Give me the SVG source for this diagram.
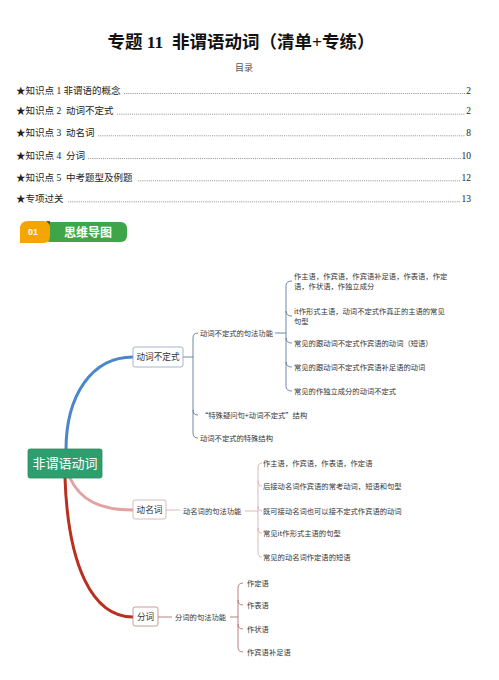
<svg xmlns="http://www.w3.org/2000/svg" width="499" height="680" viewBox="0 0 499 680">
<style>
.title{font-family:"Liberation Serif","Noto Sans CJK SC",serif;font-size:17.5px;font-weight:bold;fill:#111}
.toc{font-family:"Liberation Serif","Noto Sans CJK SC",serif;font-size:9.5px;fill:#222}
.lead{stroke:#333;stroke-width:0.7;stroke-dasharray:0.7 1.2}
.mm{font-family:"Noto Sans CJK SC",sans-serif;font-size:7.3px;fill:#333}
.node{font-family:"Noto Sans CJK SC",sans-serif;font-size:8.6px;fill:#333;text-anchor:middle}
.box{fill:#fff;stroke-width:0.8}
.thick{fill:none;stroke-width:3;stroke-linecap:round}
.thin{fill:none;stroke-width:0.8}
</style>
<rect width="499" height="680" fill="#fff"/>
<text class="title" x="241" y="48" text-anchor="middle" xml:space="preserve">专题 11  非谓语动词（清单+专练）</text>
<text x="244" y="71" text-anchor="middle" style="font-family:'Noto Sans CJK SC',sans-serif;font-size:9px;fill:#555">目录</text>
<g id="toc">
<text class="toc" x="16" y="93.5" xml:space="preserve">★知识点 1 非谓语的概念</text>
<line class="lead" x1="124" y1="93.5" x2="465" y2="93.5"/>
<text class="toc" x="471" y="93.5" text-anchor="end">2</text>
<text class="toc" x="16" y="114.2" xml:space="preserve">★知识点 2  动词不定式</text>
<line class="lead" x1="117" y1="114.2" x2="465" y2="114.2"/>
<text class="toc" x="471" y="114.2" text-anchor="end">2</text>
<text class="toc" x="16" y="135.8" xml:space="preserve">★知识点 3  动名词</text>
<line class="lead" x1="98" y1="135.8" x2="465" y2="135.8"/>
<text class="toc" x="471" y="135.8" text-anchor="end">8</text>
<text class="toc" x="16" y="158.5" xml:space="preserve">★知识点 4  分词</text>
<line class="lead" x1="88" y1="158.5" x2="461" y2="158.5"/>
<text class="toc" x="471" y="158.5" text-anchor="end">10</text>
<text class="toc" x="16" y="180.8" xml:space="preserve">★知识点 5  中考题型及例题</text>
<line class="lead" x1="138" y1="180.8" x2="461" y2="180.8"/>
<text class="toc" x="471" y="180.8" text-anchor="end">12</text>
<text class="toc" x="16" y="201.8" xml:space="preserve">★专项过关</text>
<line class="lead" x1="68" y1="201.8" x2="461" y2="201.8"/>
<text class="toc" x="471" y="201.8" text-anchor="end">13</text>
</g>
<g id="badge">
<rect x="44" y="222" width="83" height="20" rx="6" fill="#3ea648"/>
<path d="M20,243 V229 Q20,221 28,221 H44 Q50,221 50,228 V236 Q50,243 43,243 Z" fill="#f5a500"/>
<path d="M46,221 L50,221 L50,225 Z" fill="#555"/>
<text x="33" y="235.3" text-anchor="middle" style="font-family:'Liberation Sans',sans-serif;font-size:9px;font-weight:bold;fill:#fff">01</text>
<text x="88" y="236.5" text-anchor="middle" style="font-family:'Noto Sans CJK SC',sans-serif;font-size:12px;font-weight:bold;fill:#fff">思维导图</text>
</g>
<g id="connectors">
<path class="thick" stroke="#4a86c8" d="M66,450 C66,395 92,357 133,357"/>
<path class="thick" stroke="#e2a2a2" d="M70,478 C80,500 100,510 133,510"/>
<path class="thick" stroke="#b8301f" d="M65,478 C68,565 92,617 133,617"/>
<g stroke="#4a6a90">
<path class="thin" d="M183,357 H193"/>
<path class="thin" d="M198,333 Q193,333 193,338 V433 Q193,438 198,438 M193,410 Q193,415 198,415"/>
<path class="thin" d="M275,333 H286"/>
<path class="thin" d="M292,281 Q286,281 286,286 V386 Q286,391 292,391 M286,311 Q286,316 292,316 M286,338 Q286,343 292,343 M286,362 Q286,367 292,367"/>
</g>
<g stroke="#d4a5a5">
<path class="thin" d="M166,510 H180"/>
<path class="thin" d="M245,511 H258"/>
<path class="thin" d="M262,463 Q258,463 258,468 V552 Q258,557 262,557 M258,481 Q258,486 262,486 M258,506 Q258,511 262,511 M258,528 Q258,533 262,533"/>
</g>
<g stroke="#a86060">
<path class="thin" d="M158,617 H172"/>
<path class="thin" d="M230,617 H238"/>
<path class="thin" d="M243,583 Q238,583 238,588 V647 Q238,652 243,652 M238,600 Q238,605 243,605 M238,624 Q238,629 243,629"/>
</g>
</g>
<g id="root">
<rect x="28" y="449" width="74" height="29" rx="2" fill="#2f9e6e" stroke="#288a5f" stroke-width="0.8"/>
<text x="65" y="468.3" text-anchor="middle" style="font-family:'Noto Sans CJK SC',sans-serif;font-size:13px;fill:#fff">非谓语动词</text>
</g>
<g id="n-infinitive">
<rect class="box" x="133" y="347" width="50" height="20" rx="2" stroke="#8fa2bb"/>
<text class="node" x="158" y="360.2">动词不定式</text>
</g>
<g id="n-gerund">
<rect class="box" x="133" y="500" width="33" height="19" rx="2" stroke="#d4a5a5"/>
<text class="node" x="149.5" y="512.7">动名词</text>
</g>
<g id="n-participle">
<rect class="box" x="133" y="607" width="25" height="19" rx="2" stroke="#b48585"/>
<text class="node" x="145.5" y="619.7">分词</text>
</g>
<g id="inf-children">
<text class="mm" x="200" y="335.7">动词不定式的句法功能</text>
<text class="mm" x="201" y="417.7">“特殊疑问句+动词不定式”结构</text>
<text class="mm" x="200" y="440.7">动词不定式的特殊结构</text>
<text class="mm" x="294" y="279.4">作主语，作宾语，作宾语补足语，作表语，作定</text>
<text class="mm" x="294" y="289">语，作状语，作独立成分</text>
<text class="mm" x="294" y="314.4">it作形式主语，动词不定式作真正的主语的常见</text>
<text class="mm" x="294" y="324">句型</text>
<text class="mm" x="294" y="346.2">常见的跟动词不定式作宾语的动词（短语）</text>
<text class="mm" x="294" y="369.7">常见的跟动词不定式作宾语补足语的动词</text>
<text class="mm" x="294" y="393.7">常见的作独立成分的动词不定式</text>
</g>
<g id="ger-children">
<text class="mm" x="183" y="513.7">动名词的句法功能</text>
<text class="mm" x="263" y="465.7">作主语，作宾语，作表语，作定语</text>
<text class="mm" x="263" y="488.7">后接动名词作宾语的常考动词，短语和句型</text>
<text class="mm" x="263" y="513.7">既可接动名词也可以接不定式作宾语的动词</text>
<text class="mm" x="263" y="535.7">常见it作形式主语的句型</text>
<text class="mm" x="263" y="559.7">常见的动名词作定语的短语</text>
</g>
<g id="par-children">
<text class="mm" x="175" y="619.7">分词的句法功能</text>
<text class="mm" x="247" y="585.7">作定语</text>
<text class="mm" x="247" y="607.7">作表语</text>
<text class="mm" x="247" y="631.7">作状语</text>
<text class="mm" x="247" y="654.7">作宾语补足语</text>
</g>
</svg>
